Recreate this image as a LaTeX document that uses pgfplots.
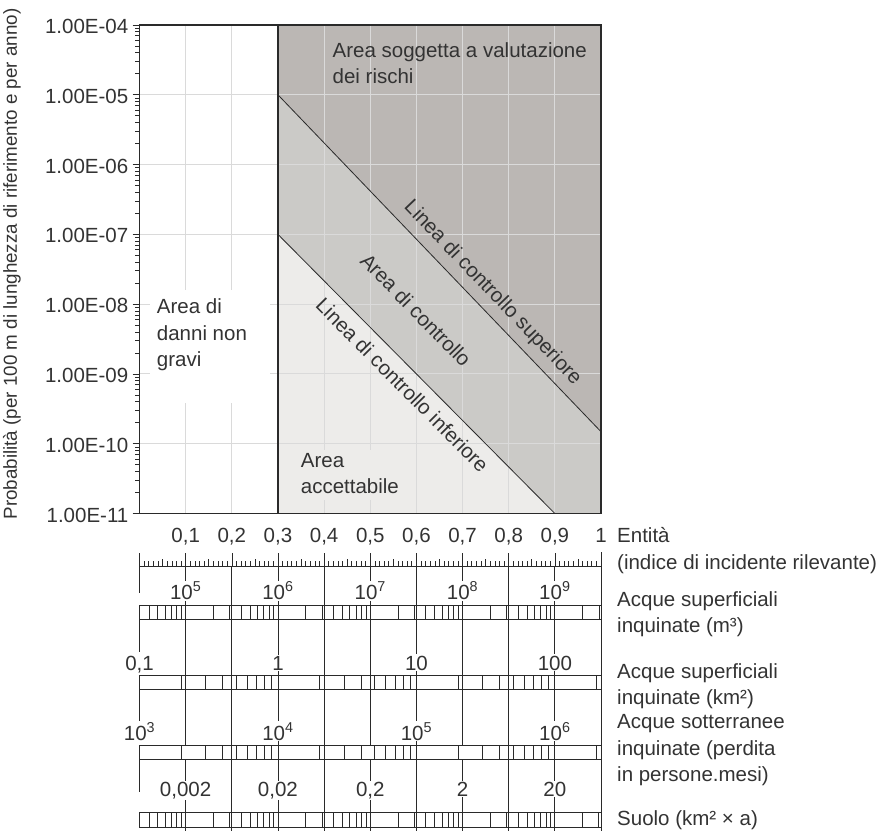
\documentclass[border=0pt]{standalone}
\usepackage{pgfplots}
\pgfplotsset{compat=1.18}
\usepackage{fontspec}
\setmainfont{Liberation Sans}
\definecolor{txt}{HTML}{333333}
\definecolor{ln}{HTML}{2A2A2A}
\definecolor{gridc}{HTML}{DADADA}
\definecolor{darkarea}{HTML}{BBB7B4}
\definecolor{midarea}{HTML}{CBCAC7}
\definecolor{lightarea}{HTML}{EDECEA}
\newcommand{\tf}{\fontsize{20.5}{24}\selectfont}
\newcommand{\yf}{\fontsize{18.8}{22}\selectfont}
\pgfplotsset{
  boxscale/.style={
    scale only axis, width=461.5pt, height=14pt,
    ymin=0, ymax=1, ytick=\empty,
    xtick pos=bottom, xticklabel pos=right,
    xtick align=inside, major tick length=14pt, minor tick length=14pt,
    tick style={ln, line width=0.8pt},
    axis line style={ln, line width=0.9pt},
    every x tick label/.append style={font=\tf, text=txt, fill=white, inner sep=1.2pt, anchor=base},
  },
  vl/.style={ln, line width=0.9pt, forget plot},
}
\tikzset{rt/.style={anchor=base west, font=\tf, text=txt, inner sep=0pt}}
\begin{document}
\begin{tikzpicture}[x=1pt,y=1pt]

% ---------------- main chart ----------------
\begin{axis}[
  set layers,
  scale only axis, width=461.5pt, height=488.5pt,
  at={(139.5pt,-513.5pt)}, anchor=south west,
  xmin=0, xmax=1, ymode=log, ymin=1e-11, ymax=1e-4,
  xtick={0,0.1,0.2,0.3,0.4,0.5,0.6,0.7,0.8,0.9,1},
  xticklabels={{},{0,1},{0,2},{0,3},{0,4},{0,5},{0,6},{0,7},{0,8},{0,9},{1}},
  xtick align=inside, xtick style={draw=none},
  ytick={1e-11,1e-10,1e-9,1e-8,1e-7,1e-6,1e-5,1e-4},
  yticklabels={1.00E-11,1.00E-10,1.00E-09,1.00E-08,1.00E-07,1.00E-06,1.00E-05,1.00E-04},
  minor ytick={2e-11,3e-11,4e-11,5e-11,6e-11,7e-11,8e-11,9e-11,
    2e-10,3e-10,4e-10,5e-10,6e-10,7e-10,8e-10,9e-10,
    2e-9,3e-9,4e-9,5e-9,6e-9,7e-9,8e-9,9e-9,
    2e-8,3e-8,4e-8,5e-8,6e-8,7e-8,8e-8,9e-8,
    2e-7,3e-7,4e-7,5e-7,6e-7,7e-7,8e-7,9e-7,
    2e-6,3e-6,4e-6,5e-6,6e-6,7e-6,8e-6,9e-6,
    2e-5,3e-5,4e-5,5e-5,6e-5,7e-5,8e-5,9e-5},
  ytick pos=left, ytick align=outside,
  major tick length=7pt, minor tick length=4.5pt,
  ytick style={ln, line width=0.8pt},
  grid=major, major grid style={gridc, line width=1pt},
  axis line style={ln, line width=1.1pt},
  every x tick label/.append style={font=\tf, text=txt, anchor=base, yshift=-28.5pt},
  every y tick label/.append style={font=\tf, text=txt, inner sep=4pt, yshift=-1.5pt},
  clip=false,
]
% areas
\addplot[fill=lightarea, draw=none, on layer=axis background] coordinates {(0.3,1e-11) (0.3,1e-7) (0.9,1e-11)};
\addplot[fill=midarea, draw=none, on layer=axis background] coordinates {(0.3,1e-7) (0.3,1e-5) (1,1.486e-10) (1,1e-11) (0.9,1e-11)};
\addplot[fill=darkarea, draw=none, on layer=axis background] coordinates {(0.3,1e-5) (0.3,1e-4) (1,1e-4) (1,1.486e-10)};
% masks behind text
\node[fill=white, inner sep=0pt, minimum width=120pt, minimum height=113pt, anchor=north west] at (axis cs:0.0228,1.595e-8) {};
\node[fill=lightarea, inner sep=0pt, minimum width=98pt, minimum height=50pt, anchor=north west] at (axis cs:0.3413,8.13e-11) {};
% boundary lines
\addplot[ln, line width=1.2pt] coordinates {(0.3,1e-11) (0.3,1e-4)};
\addplot[ln, line width=0.8pt] coordinates {(0.3,1e-5) (1,1.486e-10)};
\addplot[ln, line width=0.8pt] coordinates {(0.3,1e-7) (0.9,1e-11)};
% texts
\node[rt] at (axis cs:0.4181,3.445e-5) {Area soggetta a valutazione};
\node[rt] at (axis cs:0.4181,1.461e-5) {dei rischi};
\node[rt] at (axis cs:0.0373,7.39e-9) {Area di};
\node[rt] at (axis cs:0.0373,3.063e-9) {danni non};
\node[rt] at (axis cs:0.0373,1.269e-9) {gravi};
\node[rt] at (axis cs:0.3493,4.592e-11) {Area};
\node[rt] at (axis cs:0.3493,1.946e-11) {accettabile};
\node[rotate=-46.2, font=\tf, text=txt, inner sep=0pt] at (axis cs:0.7649,1.444e-8) {Linea di controllo superiore};
\node[rotate=-45.7, font=\tf, text=txt, inner sep=0pt] at (axis cs:0.5991,8.24e-9) {Area di controllo};
\node[rotate=-45.2, font=\tf, text=txt, inner sep=0pt] at (axis cs:0.5699,6.94e-10) {Linea di controllo inferiore};
\node[rotate=90, font=\yf, text=txt, inner sep=0pt] at (axis cs:-0.2763,3.76e-8) {Probabilità (per 100 m di lunghezza di riferimento e per anno)};
\end{axis}

% ---------------- connecting lines of the scales ----------------
\begin{axis}[
  scale only axis, width=461.5pt, height=281pt,
  at={(139.5pt,-831pt)}, anchor=south west,
  xmin=0, xmax=1, ymin=550, ymax=831, y dir=reverse,
  axis lines=none, clip=false,
]
\addplot[vl] coordinates {(0,566) (0,593)};
\addplot[vl] coordinates {(0,619) (0,652)};
\addplot[vl] coordinates {(0,689) (0,722)};
\addplot[vl] coordinates {(0,759) (0,792)};
\addplot[vl] coordinates {(1,552) (1,831)};
\addplot[vl] coordinates {(0.2,566) (0.2,831)};
\addplot[vl] coordinates {(0.4,566) (0.4,831)};
\addplot[vl] coordinates {(0.6,566) (0.6,831)};
\addplot[vl] coordinates {(0.8,566) (0.8,831)};
\addplot[vl] coordinates {(0.1,566) (0.1,745)};
\addplot[vl] coordinates {(0.1,759) (0.1,831)};
\addplot[vl] coordinates {(0.3,566) (0.3,745)};
\addplot[vl] coordinates {(0.3,759) (0.3,831)};
\addplot[vl] coordinates {(0.5,566) (0.5,745)};
\addplot[vl] coordinates {(0.5,759) (0.5,831)};
\addplot[vl] coordinates {(0.7,566) (0.7,745)};
\addplot[vl] coordinates {(0.7,759) (0.7,831)};
\addplot[vl] coordinates {(0.9,566) (0.9,745)};
\addplot[vl] coordinates {(0.9,759) (0.9,831)};
% side texts
\node[rt] at (axis cs:1.0347,542) {Entità};
\node[rt] at (axis cs:1.0347,569) {(indice di incidente rilevante)};
\node[rt] at (axis cs:1.0347,606) {Acque superficiali};
\node[rt] at (axis cs:1.0347,632) {inquinate (m³)};
\node[rt] at (axis cs:1.0347,678) {Acque superficiali};
\node[rt] at (axis cs:1.0347,704) {inquinate (km²)};
\node[rt] at (axis cs:1.0347,728) {Acque sotterranee};
\node[rt] at (axis cs:1.0347,755) {inquinate (perdita};
\node[rt] at (axis cs:1.0347,781) {in persone.mesi)};
\node[rt] at (axis cs:1.0347,825) {Suolo (km² × a)};
\end{axis}

% ---------------- entity ruler ----------------
\begin{axis}[
  scale only axis, width=461.5pt, height=13pt,
  at={(139.5pt,-566pt)}, anchor=south west,
  xmin=0, xmax=1, ymin=0, ymax=1,
  axis x line=bottom, axis y line=none,
  x axis line style={-, ln, line width=0.9pt},
  xtick={0,0.1,0.2,0.3,0.4,0.5,0.6,0.7,0.8,0.9,1},
  xticklabels={{},{},{},{},{},{},{},{},{},{},{}},
  xticklabel style={opacity=0},
  xtick pos=bottom, xtick align=inside,
  minor x tick num=9,
  major tick length=13pt, minor tick length=5pt,
  extra x ticks={0.05,0.15,0.25,0.35,0.45,0.55,0.65,0.75,0.85,0.95},
  extra x tick labels={{},{},{},{},{},{},{},{},{},{}},
  extra x tick style={major tick length=7pt},
  tick style={ln, line width=0.6pt},
  ytick=\empty,
]
\end{axis}

% ---------------- log scales ----------------
% polluted surface water (m3)
\begin{axis}[xmode=log, boxscale,
  at={(139.5pt,-619pt)}, anchor=south west,
  xmin=31622.7766, xmax=3162277660,
  xtick={1e5,1e6,1e7,1e8,1e9},
  xticklabels={10\textsuperscript{5},10\textsuperscript{6},10\textsuperscript{7},10\textsuperscript{8},10\textsuperscript{9}},
  minor xtick={4e4,5e4,6e4,7e4,8e4,9e4,
    2e5,3e5,4e5,5e5,6e5,7e5,8e5,9e5,
    2e6,3e6,4e6,5e6,6e6,7e6,8e6,9e6,
    2e7,3e7,4e7,5e7,6e7,7e7,8e7,9e7,
    2e8,3e8,4e8,5e8,6e8,7e8,8e8,9e8,
    2e9,3e9},
  every x tick label/.append style={yshift=5.5pt},
]
\end{axis}
% polluted surface water (km2)
\begin{axis}[xmode=log, boxscale,
  at={(139.5pt,-689pt)}, anchor=south west,
  xmin=0.1, xmax=215.443,
  xtick={0.1,1,10,100},
  xticklabels={{0,1},{1},{10},{100}},
  minor xtick={0.2,0.3,0.4,0.5,0.6,0.7,0.8,0.9,
    2,3,4,5,6,7,8,9,
    20,30,40,50,60,70,80,90,
    200},
  every x tick label/.append style={yshift=5pt},
]
\end{axis}
% groundwater (person-months)
\begin{axis}[xmode=log, boxscale,
  at={(139.5pt,-759pt)}, anchor=south west,
  xmin=1000, xmax=2154434.7,
  xtick={1e3,1e4,1e5,1e6},
  xticklabels={10\textsuperscript{3},10\textsuperscript{4},10\textsuperscript{5},10\textsuperscript{6}},
  minor xtick={2e3,3e3,4e3,5e3,6e3,7e3,8e3,9e3,
    2e4,3e4,4e4,5e4,6e4,7e4,8e4,9e4,
    2e5,3e5,4e5,5e5,6e5,7e5,8e5,9e5,
    2e6},
  every x tick label/.append style={yshift=5pt},
]
\end{axis}
% soil (km2 x a)
\begin{axis}[xmode=log, boxscale, height=15pt, major tick length=15pt, minor tick length=15pt,
  at={(139.5pt,-827pt)}, anchor=south west,
  xmin=6.32456e-4, xmax=63.2456,
  xtick={0.002,0.02,0.2,2,20},
  xticklabels={{0,002},{0,02},{0,2},{2},{20}},
  minor xtick={8e-4,1e-3,1.2e-3,1.4e-3,1.6e-3,1.8e-3,
    4e-3,6e-3,8e-3,1e-2,1.2e-2,1.4e-2,1.6e-2,1.8e-2,
    4e-2,6e-2,8e-2,0.1,0.12,0.14,0.16,0.18,
    0.4,0.6,0.8,1,1.2,1.4,1.6,1.8,
    4,6,8,10,12,14,16,18,
    40,60},
  every x tick label/.append style={yshift=16pt},
]
\end{axis}
\pgfresetboundingbox
\path[use as bounding box] (0,0) rectangle (878,-831);
\end{tikzpicture}
\end{document}
